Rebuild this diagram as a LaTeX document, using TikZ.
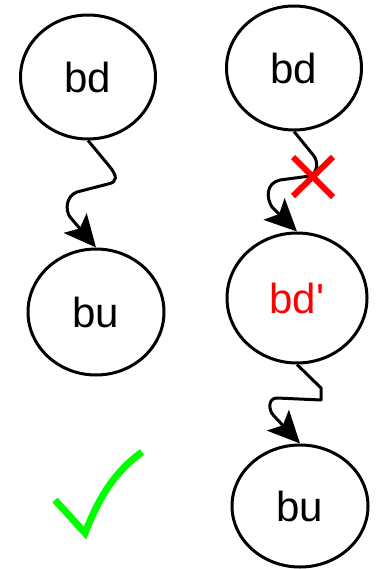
\documentclass[tikz,border=0pt]{standalone}
\usepackage{fontspec}
\setmainfont{Liberation Sans}
\usetikzlibrary{shapes.geometric,arrows.meta}
\begin{document}
\begin{tikzpicture}[x=1pt,y=-1pt,
  state/.style={ellipse,draw=black,line width=3pt,inner sep=0pt,
    font=\fontsize{42}{48}\selectfont},
  wiggle/.style={draw=black,line width=3pt,line join=round,
    -{Stealth[length=32pt,width=30pt,inset=7pt]}},
  cross/.style={draw=red,line width=6pt},
  tick/.style={draw=green,line width=7pt}]
\useasboundingbox (0,0) rectangle (377,569);

% left column: bd reaches bu directly
\node[state,minimum width=135pt,minimum height=124pt] (lbd) at (88,77) {bd};
\node[state,minimum width=136pt,minimum height=126pt] (lbu) at (96,312) {bu};

% right column: bd -> bd' -> bu
\node[state,minimum width=135pt,minimum height=124pt] (rbd) at (294,68) {bd};
\node[state,minimum width=140pt,minimum height=130pt,text=red] (rbdp) at (297,298) {bd\textquotesingle};
\node[state,minimum width=136pt,minimum height=122pt] (rbu) at (300,506) {bu};

% wavy connectors
\draw[wiggle] (lbd.south) -- (110,167) .. controls (117,176) and (118,182) .. (108,184)
  -- (77,192) .. controls (66,196) and (65,210) .. (70,217) -- (lbu.north);
\draw[wiggle] (rbd.south) -- (314,156) .. controls (318,162) and (318,172) .. (310,176)
  -- (280,180) .. controls (266,183) and (266,198) .. (272,207) -- (rbdp.north);
\draw[wiggle] (rbdp.south) -- (321,388) -- (321,400) -- (277,398)
  .. controls (268,398) and (268,410) .. (274,416) -- (rbu.north);

% red cross over the first right-hand connector
\coordinate (xc) at (313,177);
\draw[cross] ([shift={(-20,-20)}]xc) -- ([shift={(20,20)}]xc);
\draw[cross] ([shift={(20,-20)}]xc) -- ([shift={(-20,19)}]xc);

% green check mark
\coordinate (ck) at (85,533);
\draw[tick] (55,500) -- (ck) .. controls (100,495) and (115,472) .. (142,452);
\end{tikzpicture}
\end{document}
